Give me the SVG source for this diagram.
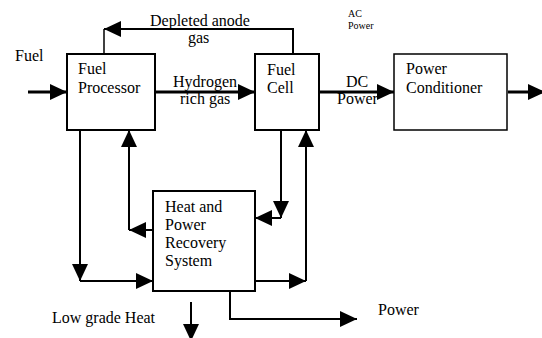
<svg xmlns="http://www.w3.org/2000/svg" width="542" height="338" viewBox="0 0 542 338">
<defs>
<style>
.box{fill:#fff;stroke:#000;stroke-width:2}
.thin{fill:#fff;stroke:#000;stroke-width:1.5}
.t{font-family:"Liberation Serif","Times New Roman",serif;font-size:16px;fill:#000}
.s{font-family:"Liberation Serif","Times New Roman",serif;font-size:10px;fill:#000}
.c{fill:none;stroke:#000;stroke-width:2}
.m{fill:none;stroke:#000;stroke-width:3}
</style>
<marker id="ah" markerUnits="userSpaceOnUse" markerWidth="17" markerHeight="16" refX="17" refY="8" orient="auto" viewBox="0 0 17 16">
<path d="M0,0 L17,8 L0,16 Z" fill="#000"/>
</marker>
</defs>
<rect width="542" height="338" fill="#fff"/>
<g id="connectors">
<path class="m" d="M28,92 H67" marker-end="url(#ah)"/>
<path class="m" d="M155,92 H255" marker-end="url(#ah)"/>
<path class="m" d="M319,92 H394" marker-end="url(#ah)"/>
<path class="m" d="M508,92 H545" marker-end="url(#ah)"/>
<path class="c" d="M293,54 V29 H104" marker-end="url(#ah)"/>
<path class="c" d="M104,29 V54" style="stroke-width:1.5"/>
<path class="c" d="M80,130 V281" marker-end="url(#ah)"/>
<path class="c" d="M80,281 H153" marker-end="url(#ah)"/>
<path class="c" d="M153,230 H129" marker-end="url(#ah)"/>
<path class="c" d="M129,230 V130" marker-end="url(#ah)"/>
<path class="c" d="M281,130 V218" marker-end="url(#ah)"/>
<path class="c" d="M281,218 H255" marker-end="url(#ah)"/>
<path class="c" d="M255,281 H306" marker-end="url(#ah)"/>
<path class="c" d="M306,281 V130" marker-end="url(#ah)"/>
<path class="c" d="M230,291 V319 H357" marker-end="url(#ah)"/>
<path class="c" d="M191,302 V341" marker-end="url(#ah)"/>
</g>
<g id="fuel-processor">
<rect class="box" x="67" y="54" width="88" height="76"/>
<text class="t" x="78" y="74">Fuel</text>
<text class="t" x="78" y="93">Processor</text>
</g>
<g id="fuel-cell">
<rect class="box" x="255" y="54" width="64" height="76"/>
<text class="t" x="267" y="75">Fuel</text>
<text class="t" x="267" y="93">Cell</text>
</g>
<g id="power-conditioner">
<rect class="thin" x="394" y="54" width="113" height="76"/>
<text class="t" x="406" y="74">Power</text>
<text class="t" x="406" y="93">Conditioner</text>
</g>
<g id="heat-power-recovery">
<rect class="box" x="153" y="191" width="102" height="100"/>
<text class="t" x="165" y="212">Heat and</text>
<text class="t" x="165" y="230">Power</text>
<text class="t" x="165" y="248">Recovery</text>
<text class="t" x="165" y="266">System</text>
</g>
<g id="labels">
<text class="t" x="15" y="61">Fuel</text>
<text class="t" x="150" y="26">Depleted anode</text>
<text class="t" x="188" y="43">gas</text>
<text class="t" x="173" y="87">Hydrogen</text>
<text class="t" x="180" y="104">rich gas</text>
<text class="t" x="346" y="87">DC</text>
<text class="t" x="337" y="104">Power</text>
<text class="s" x="348" y="17">AC</text>
<text class="s" x="348" y="29">Power</text>
<text class="t" x="52" y="323">Low grade Heat</text>
<text class="t" x="378" y="315">Power</text>
</g>
</svg>
